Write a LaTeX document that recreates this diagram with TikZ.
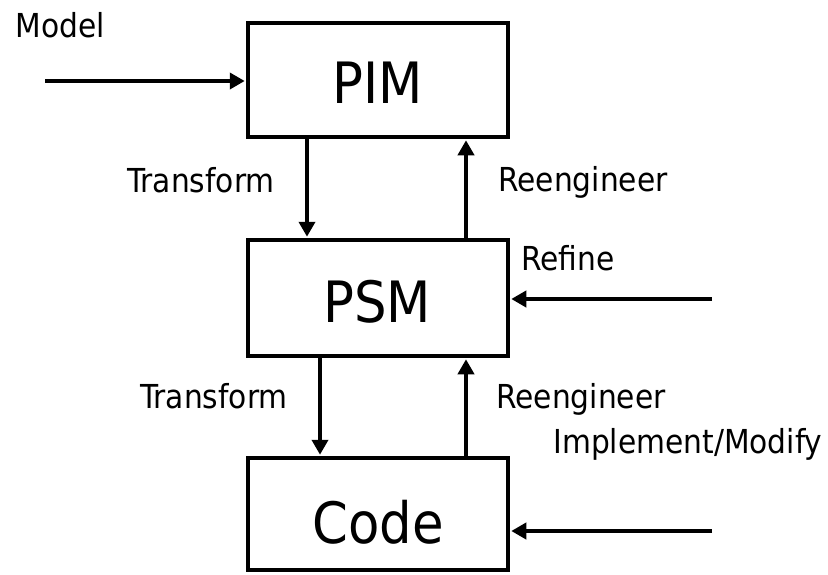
\documentclass[tikz,border=0pt]{standalone}
\usepackage{fontspec}
\setmainfont{DejaVu Sans Condensed}
\usetikzlibrary{arrows.meta}
\tikzset{
  stage/.style={draw, line width=4.5pt, minimum width=260pt, inner sep=0pt},
  stagetext/.style={anchor=base, inner sep=0pt, font=\fontsize{57}{62}\selectfont},
  lbl/.style={anchor=base, inner sep=0pt, font=\fontsize{33}{37}\selectfont},
  flow/.style={line width=4.5pt, -{Triangle[length=15pt,width=16pt]}, shorten >=1pt},
}
\begin{document}
\begin{tikzpicture}[x=1pt, y=-1pt]
  \useasboundingbox (0,0) rectangle (828,574);

  % the three model levels
  \node[stage, minimum height=114pt] (pim)  at (378,80)  {};
  \node[stage, minimum height=116pt] (psm)  at (378,298) {};
  \node[stage, minimum height=112pt] (code) at (378,514) {};
  \node[stagetext] (pimt)  at (378,103) {PIM};
  \node[stagetext] (psmt)  at (377,322) {PSM};
  \node[stagetext] (codet) at (378,543) {Code};

  % incoming activities
  \coordinate (min) at (45,81);
  \coordinate (rin) at (712,299);
  \coordinate (iin) at (712,531);
  \draw[flow] (min) -- (pim.west |- min);
  \draw[flow] (rin) -- (psm.east |- rin);
  \draw[flow] (iin) -- (code.east |- iin);

  % transformations between levels
  \draw[flow] ([xshift=-71pt]pim.south) -- ([xshift=-71pt]psm.north);
  \draw[flow] ([xshift=88pt]psm.north) -- ([xshift=88pt]pim.south);
  \draw[flow] ([xshift=-58pt]psm.south) -- ([xshift=-58pt]code.north);
  \draw[flow] ([xshift=88pt]code.north) -- ([xshift=88pt]psm.south);

  % activity labels
  \node[lbl] (lmodel) at (60,37)   {Model};
  \node[lbl] (ltr1)   at (201,192) {Transform};
  \node[lbl] (lre1)   at (583,191) {Reengineer};
  \node[lbl] (lref)   at (568,270) {Refine};
  \node[lbl] (ltr2)   at (214,408) {Transform};
  \node[lbl] (lre2)   at (581,408) {Reengineer};
  \node[lbl] (limp)   at (688,453) {Implement/Modify};
\end{tikzpicture}
\end{document}
